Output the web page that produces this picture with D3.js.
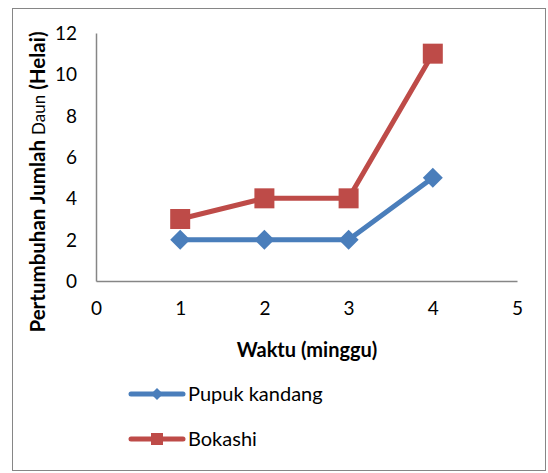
<!DOCTYPE html>
<html><head><meta charset="utf-8">
<script src="https://cdn.jsdelivr.net/npm/d3@7"></script>
<style>body{margin:0;background:#fff}svg{display:block}text{font-family:Lato,"Open Sans",sans-serif;fill:#000}</style>
</head><body><svg id="c" width="548" height="473"></svg>
<script>
const weeks = [1, 2, 3, 4];
const pupukKandang = [2, 2, 2, 5];
const bokashi = [3, 4, 4, 11];
const seriesNames = ["Pupuk kandang", "Bokashi"];
const xTicks = [0, 1, 2, 3, 4, 5];
const yTicks = [0, 2, 4, 6, 8, 10, 12];

const svg = d3.select("#c");
svg.append("rect").attr("x", 12.5).attr("y", 8.5).attr("width", 533).attr("height", 462)
  .attr("fill", "#fff").attr("stroke", "#868686").attr("stroke-width", 1);

const x = d3.scaleLinear().domain([0, 5]).range([96, 517]);
const y = d3.scaleLinear().domain([0, 12]).range([281, 33]);

const xAxis = svg.append("g").attr("transform", "translate(0,281)")
  .call(d3.axisBottom(x).tickValues(xTicks).tickSize(0).tickPadding(20).tickFormat(d3.format("d")));
const yAxis = svg.append("g").attr("transform", "translate(96,0)")
  .call(d3.axisLeft(y).tickValues(yTicks).tickSize(0).tickPadding(19).tickFormat(d3.format("d")));
[xAxis, yAxis].forEach(a => {
  a.select(".domain").attr("stroke", "#868686").attr("stroke-width", 1.5);
  a.selectAll("text").attr("font-size", 19).attr("font-family", "Lato, sans-serif").attr("fill", "#000");
});
yAxis.selectAll("text").attr("dy", "0.35em");
xAxis.selectAll("text").attr("dy", "0.35em").attr("y", 27);

svg.append("text").attr("x", 307).attr("y", 357).attr("text-anchor", "middle")
  .attr("font-size", 20).attr("font-weight", "bold").text("Waktu (minggu)");

const yt = svg.append("text").attr("transform", "translate(45,182) rotate(-90)")
  .attr("text-anchor", "middle").attr("font-size", 20.5).attr("font-weight", "bold");
yt.append("tspan").text("Pertumbuhan Jumlah ");
yt.append("tspan").attr("font-weight", "normal").attr("font-size", 17).text("Daun");
yt.append("tspan").text(" (Helai)");

const blue = "#4A7EBB", red = "#BE4B48";
const line = d3.line().x((d, i) => x(weeks[i])).y(d => y(d));

function diamond(g, cx, cy, r, col) {
  g.append("path").attr("d", `M${cx},${cy - r}L${cx + r},${cy}L${cx},${cy + r}L${cx - r},${cy}Z`).attr("fill", col);
}
function square(g, cx, cy, s, col) {
  g.append("rect").attr("x", cx - s / 2).attr("y", cy - s / 2).attr("width", s).attr("height", s).attr("fill", col);
}

const g = svg.append("g");
g.append("path").datum(pupukKandang).attr("d", line).attr("fill", "none").attr("stroke", blue).attr("stroke-width", 5).attr("stroke-linejoin", "round");
pupukKandang.forEach((v, i) => diamond(g, x(weeks[i]), y(v), 10, blue));
g.append("path").datum(bokashi).attr("d", line).attr("fill", "none").attr("stroke", red).attr("stroke-width", 5).attr("stroke-linejoin", "round");
bokashi.forEach((v, i) => square(g, x(weeks[i]), y(v), 20, red));

const legY = [394, 439];
const cols = [blue, red];
seriesNames.forEach((n, i) => {
  const lg = svg.append("g");
  lg.append("line").attr("x1", 131).attr("x2", 183).attr("y1", legY[i]).attr("y2", legY[i])
    .attr("stroke", cols[i]).attr("stroke-width", 5).attr("stroke-linecap", "round");
  if (i === 0) diamond(lg, 157, legY[i], 6, cols[i]); else square(lg, 157, legY[i], 12, cols[i]);
  lg.append("text").attr("x", 188).attr("y", legY[i]).attr("dy", "0.35em").attr("font-size", 20).text(n);
});
</script></body></html>
